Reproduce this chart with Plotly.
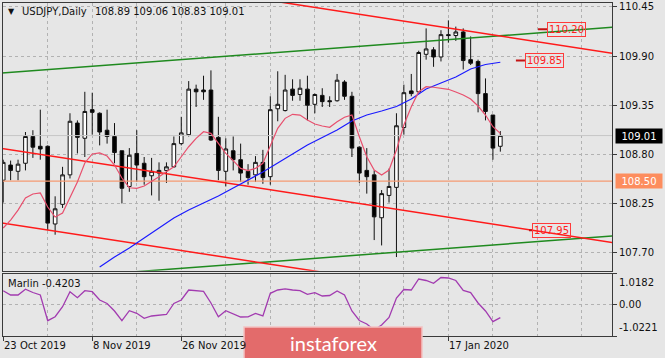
import plotly.graph_objects as go

# ---------------- data ----------------
OPEN = [108.51, 108.68, 108.61, 108.70, 109.00, 108.89, 108.89, 108.02, 108.24, 108.57,
        109.15, 108.98, 109.30, 109.26, 109.07, 109.00, 108.84, 108.44, 108.81, 108.70,
        108.56, 108.59, 108.62, 108.66, 108.92, 109.02, 109.53, 109.52, 109.52, 108.99,
        108.61, 108.84, 108.74, 108.61, 108.57, 108.71, 108.55, 109.31, 109.29, 109.53,
        109.47, 109.53, 109.36, 109.46, 109.40, 109.40, 109.61, 109.45, 108.88, 108.62,
        108.57, 108.09, 108.34, 108.43, 109.10, 109.51, 109.50, 109.92, 109.97, 109.89,
        110.14, 110.13, 110.17, 109.86, 109.84, 109.48, 109.24, 108.89]
HIGH = [108.74, 108.73, 108.74, 109.05, 109.07, 109.30, 108.90, 108.33, 108.66, 109.26,
        109.18, 109.50, 109.49, 109.27, 109.30, 109.15, 108.84, 108.87, 109.07, 108.77,
        108.76, 108.71, 108.71, 109.00, 109.22, 109.62, 109.58, 109.68, 109.74, 109.22,
        108.98, 109.00, 108.92, 108.69, 108.78, 108.85, 109.45, 109.73, 109.69, 109.64,
        109.64, 109.68, 109.48, 109.54, 109.45, 109.70, 109.63, 109.50, 108.89, 108.87,
        108.62, 108.40, 108.64, 109.26, 109.58, 109.70, 109.96, 110.21, 110.00, 110.19,
        110.30, 110.23, 110.21, 110.12, 109.86, 109.65, 109.24, 109.06]
LOW = [108.26, 108.51, 108.51, 108.62, 108.76, 108.74, 107.95, 107.90, 108.20, 108.53,
       108.81, 108.77, 109.02, 108.90, 108.92, 108.70, 108.25, 108.38, 108.49, 108.46,
       108.34, 108.28, 108.48, 108.65, 108.90, 109.00, 109.33, 109.41, 108.95, 108.51,
       108.44, 108.62, 108.49, 108.46, 108.49, 108.47, 108.46, 109.17, 109.28, 109.40,
       109.40, 109.18, 109.26, 109.33, 109.33, 109.39, 109.41, 108.77, 108.48, 108.36,
       107.84, 107.78, 108.26, 107.65, 109.02, 109.45, 109.48, 109.86, 109.78, 109.84,
       110.05, 110.07, 109.75, 109.80, 109.27, 109.18, 108.74, 108.83]
CLOSE = [108.71, 108.62, 108.69, 109.00, 108.88, 108.86, 108.03, 108.19, 108.57, 109.17,
         108.99, 109.28, 109.27, 109.05, 109.00, 108.82, 108.42, 108.79, 108.68, 108.55,
         108.61, 108.62, 108.66, 108.92, 109.04, 109.53, 109.50, 109.50, 108.96, 108.62,
         108.86, 108.74, 108.59, 108.54, 108.71, 108.54, 109.30, 109.36, 109.52, 109.46,
         109.54, 109.35, 109.47, 109.39, 109.39, 109.63, 109.45, 108.87, 108.59, 108.55,
         108.10, 108.36, 108.44, 109.12, 109.49, 109.48, 109.94, 109.98, 109.89, 110.14,
         110.13, 110.17, 109.85, 109.82, 109.48, 109.28, 108.87, 109.01]

MA_FAST = [107.975, 108.064, 108.176, 108.311, 108.356, 108.367, 108.21, 108.098, 108.143, 108.322,
           108.49, 108.703, 108.804, 108.815, 108.781, 108.68, 108.535, 108.426, 108.419, 108.445,
           108.493, 108.549, 108.605, 108.661, 108.773, 108.885, 108.979, 109.053, 109.035, 108.923,
           108.811, 108.729, 108.643, 108.617, 108.643, 108.699, 108.885, 109.091, 109.203, 109.248,
           109.24, 109.184, 109.14, 109.117, 109.103, 109.165, 109.215, 109.24, 108.997, 108.773,
           108.624, 108.568, 108.624, 108.848, 109.128, 109.333, 109.501, 109.557, 109.551, 109.543,
           109.528, 109.498, 109.464, 109.42, 109.341, 109.24, 109.109, 109.035]

MA_SLOW_BARS = [13, 15, 17, 19, 21, 23, 25, 27, 29, 31, 33, 35, 37, 39, 41, 43, 45, 47, 49, 51,
                53, 55, 57, 59, 61, 63, 65, 67]
MA_SLOW = [107.538, 107.65, 107.751, 107.863, 107.975, 108.087, 108.176, 108.255, 108.333, 108.423,
           108.512, 108.602, 108.703, 108.804, 108.904, 108.988, 109.072, 109.173, 109.24, 109.285,
           109.336, 109.42, 109.532, 109.599, 109.666, 109.756, 109.806, 109.831]

MARLIN = [0.457, 0.317, 0.317, 0.506, 0.398, 0.317, -0.522, -0.392, -0.065, 0.424,
          0.229, 0.457, 0.424, 0.153, 0.039, -0.206, -0.522, -0.196, -0.281, -0.444,
          -0.369, -0.336, -0.320, 0.039, 0.153, 0.480, 0.447, 0.434, 0.056, -0.392,
          -0.196, -0.304, -0.402, -0.395, -0.287, -0.369, 0.372, 0.480, 0.513, 0.480,
          0.457, 0.340, 0.392, 0.284, 0.300, 0.447, 0.317, -0.206, -0.516, -0.630,
          -0.826, -0.663, -0.418, 0.219, 0.496, 0.480, 0.839, 0.790, 0.699, 0.888,
          0.872, 0.790, 0.464, 0.398, 0.056, -0.206, -0.555, -0.4203]
MARLIN_MAX = 1.0182
MARLIN_MIN = -1.0221

DATE_TICK_BARS = [0, 12, 24, 36, 48, 60]
# labels that are not hidden by the logo
DATE_LABEL_BARS = [0, 12, 24, 60]
DATE_LABELS = ["23 Oct 2019", "8 Nov 2019", "26 Nov 2019", "17 Jan 2020"]
GRID_BARS = [0, 6, 12, 18, 24, 30, 36, 42, 48, 54, 60, 66, 72, 78]
PRICE_TICKS = [110.45, 109.90, 109.35, 108.80, 108.25, 107.70]
LEVEL_LINE = 108.50

# trend lines: (bar positions, prices) at both ends
TL_X = [-1, 84]
TL_GREEN_UP = [109.705, 110.234]
TL_GREEN_LO = [107.368, 107.897]
TL_RED_UP = [110.995, 109.908]
TL_RED_MID = [108.876, 107.789]
TL_RED_LO = [108.043, 106.956]

# price text labels on the chart
LABEL_PRICES = [110.20, 109.85, 107.95]
LABEL_BARS = [73.29, 70.32, 71.31]
LABEL_DASH_BARS = [[72.08, 73.29], [69.10, 70.32], [70.86, 71.31]]

# ---------------- styling ----------------
BG = "#e6e6e6"
FONT = "DejaVu Sans"
W, H = 665, 358
X_RANGE = [-0.094, 82.05]
Y_RANGE = [107.497, 110.500]
XDOM = [2.5 / W, 612 / W]
YDOM_MAIN = [1 - 270.7 / H, 1 - 2.5 / H]
YDOM_IND = [1 - 336 / H, 1 - 273.5 / H]

fig = go.Figure()
bars = list(range(len(OPEN)))

# horizontal price lines
fig.add_trace(go.Scatter(x=X_RANGE, y=[CLOSE[-1]] * 2, mode="lines",
                         line=dict(color="#c6c6c6", width=1), hoverinfo="skip", showlegend=False))
fig.add_trace(go.Scatter(x=X_RANGE, y=[LEVEL_LINE] * 2, mode="lines",
                         line=dict(color="#f49a72", width=1.3), hoverinfo="skip", showlegend=False))

# candles
fig.add_trace(go.Candlestick(
    x=bars, open=OPEN, high=HIGH, low=LOW, close=CLOSE,
    increasing=dict(line=dict(color="#111111", width=1), fillcolor="#ffffff"),
    decreasing=dict(line=dict(color="#111111", width=1), fillcolor="#000000"),
    whiskerwidth=0, hoverinfo="skip", showlegend=False))

# trend lines
for vals, col in [(TL_GREEN_UP, "#1f8a1f"), (TL_GREEN_LO, "#1f8a1f"),
                  (TL_RED_UP, "#ff1a1a"), (TL_RED_MID, "#ff1a1a"), (TL_RED_LO, "#ff1a1a")]:
    fig.add_trace(go.Scatter(x=TL_X, y=vals, mode="lines",
                             line=dict(color=col, width=1.5), hoverinfo="skip", showlegend=False))

# moving averages
fig.add_trace(go.Scatter(x=MA_SLOW_BARS, y=MA_SLOW, mode="lines",
                         line=dict(color="#1a1aff", width=1.2), hoverinfo="skip", showlegend=False))
fig.add_trace(go.Scatter(x=bars, y=MA_FAST, mode="lines",
                         line=dict(color="#e8506e", width=1.2), hoverinfo="skip", showlegend=False))

# label dashes
for dx, py in zip(LABEL_DASH_BARS, LABEL_PRICES):
    fig.add_trace(go.Scatter(x=dx, y=[py, py], mode="lines",
                             line=dict(color="#c41414", width=2), hoverinfo="skip", showlegend=False))

# Marlin indicator
fig.add_trace(go.Scatter(x=bars, y=MARLIN, mode="lines", xaxis="x2", yaxis="y2",
                         line=dict(color="#a23bb0", width=1.3), hoverinfo="skip", showlegend=False))

annotations = []
# on-chart price labels
for bx, py in zip(LABEL_BARS, LABEL_PRICES):
    annotations.append(dict(x=bx, y=py, xref="x", yref="y", xanchor="left", yanchor="middle",
                            text=f"{py:.2f}", showarrow=False,
                            font=dict(family=FONT, size=10, color="#ff2020"),
                            bordercolor="#ff3a3a", borderwidth=1, borderpad=1))
# axis badges
annotations.append(dict(x=614.5 / W, y=CLOSE[-1], xref="paper", yref="y", xanchor="left",
                        yanchor="middle", text=f"{CLOSE[-1]:.2f}", showarrow=False,
                        font=dict(family=FONT, size=10, color="#ffffff"),
                        bgcolor="#000000", width=44, height=12, align="center"))
annotations.append(dict(x=614.5 / W, y=LEVEL_LINE, xref="paper", yref="y", xanchor="left",
                        yanchor="middle", text=f"{LEVEL_LINE:.2f}", showarrow=False,
                        font=dict(family=FONT, size=10, color="#ffffff"),
                        bgcolor="#fd8d5e", width=44, height=12, align="center"))
# header
annotations.append(dict(x=6 / W, y=1 - 12 / H, xref="paper", yref="paper", xanchor="left",
                        yanchor="middle", text="▼", showarrow=False,
                        font=dict(family=FONT, size=8, color="#111111")))
annotations.append(dict(x=20 / W, y=1 - 12 / H, xref="paper", yref="paper", xanchor="left",
                        yanchor="middle", text="USDJPY,Daily", showarrow=False,
                        font=dict(family=FONT, size=10, color="#111111")))
annotations.append(dict(x=92.5 / W, y=1 - 12 / H, xref="paper", yref="paper", xanchor="left",
                        yanchor="middle",
                        text=f"{OPEN[-1]:.2f} {HIGH[-1]:.2f} {LOW[-1]:.2f} {CLOSE[-1]:.2f}",
                        showarrow=False, font=dict(family=FONT, size=10, color="#111111")))
# indicator title and scale
annotations.append(dict(x=5.5 / W, y=1 - 283 / H, xref="paper", yref="paper", xanchor="left",
                        yanchor="middle", text=f"Marlin {MARLIN[-1]:.4f}", showarrow=False,
                        font=dict(family=FONT, size=10, color="#111111")))
annotations.append(dict(x=617 / W, y=MARLIN_MAX, xref="paper", yref="y2", xanchor="left",
                        yanchor="top", yshift=-1, text=f"{MARLIN_MAX:.4f}", showarrow=False,
                        font=dict(family=FONT, size=10, color="#111111")))
annotations.append(dict(x=617 / W, y=MARLIN_MIN, xref="paper", yref="y2", xanchor="left",
                        yanchor="bottom", yshift=1, text=f"{MARLIN_MIN:.4f}", showarrow=False,
                        font=dict(family=FONT, size=10, color="#111111")))
# date labels
for b, t in zip(DATE_LABEL_BARS, DATE_LABELS):
    annotations.append(dict(x=b, y=1 - 345 / H, xref="x2", yref="paper", xanchor="left",
                            yanchor="middle", xshift=-1, text=t, showarrow=False,
                            font=dict(family=FONT, size=10, color="#111111")))
# logo
annotations.append(dict(x=333 / W, y=1 - 342.5 / H, xref="paper", yref="paper", xanchor="center",
                        yanchor="middle", text="instaforex", showarrow=False,
                        font=dict(family="Lato", size=20, color="#ffffff")))

shapes = [dict(type="rect", xref="paper", yref="paper", x0=244 / W, x1=422 / W,
               y0=-0.01, y1=1 - 327 / H, fillcolor="#e36b6b",
               line=dict(color="#f3c2c2", width=1.5), layer="above")]

axis_common = dict(showline=True, linecolor="#3a3a3a", linewidth=1, mirror=True, zeroline=False)
grid_common = dict(gridcolor="#b2b2b2", griddash="3px,3px", gridwidth=1)

fig.update_layout(
    width=W, height=H, autosize=False,
    margin=dict(l=0, r=0, t=0, b=0),
    paper_bgcolor=BG, plot_bgcolor=BG,
    showlegend=False,
    font=dict(family=FONT, size=10, color="#111111"),
    annotations=annotations, shapes=shapes,
    xaxis=dict(domain=XDOM, range=X_RANGE, anchor="y", tickmode="array", tickvals=GRID_BARS,
               showticklabels=False, ticks="", showgrid=True, rangeslider=dict(visible=False),
               **grid_common, **axis_common),
    yaxis=dict(domain=YDOM_MAIN, range=Y_RANGE, anchor="x", side="right", tickmode="array",
               tickvals=PRICE_TICKS, ticktext=[f"{v:.2f}" for v in PRICE_TICKS],
               ticks="outside", ticklen=4, tickcolor="#3a3a3a", showgrid=True,
               tickfont=dict(family=FONT, size=10, color="#111111"),
               **grid_common, **axis_common),
    xaxis2=dict(domain=XDOM, range=X_RANGE, anchor="y2", tickmode="array", tickvals=DATE_TICK_BARS,
                ticktext=["" for _ in DATE_TICK_BARS], ticks="outside", ticklen=4, tickcolor="#3a3a3a",
                showgrid=True,
                minor=dict(tickmode="array", tickvals=GRID_BARS, showgrid=True,
                           gridcolor="#b2b2b2", griddash="3px,3px", ticks=""),
                **grid_common, **axis_common),
    yaxis2=dict(domain=YDOM_IND, range=[MARLIN_MIN, MARLIN_MAX], anchor="x2", side="right",
                tickmode="array", tickvals=[MARLIN_MAX, 0.0, MARLIN_MIN], ticktext=["", "0.00", ""],
                ticks="outside", ticklen=4, tickcolor="#3a3a3a", showgrid=True,
                tickfont=dict(family=FONT, size=10, color="#111111"),
                **grid_common, **axis_common),
)

fig.write_html("out.html", config={"displayModeBar": False},
               post_script="document.body.style.margin='0px';document.body.style.overflow='hidden';")
